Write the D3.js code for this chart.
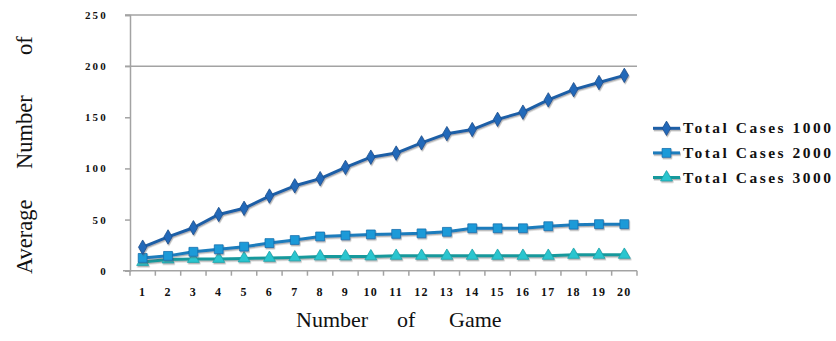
<!DOCTYPE html>
<html>
<head>
<meta charset="utf-8">
<script src="https://cdn.jsdelivr.net/npm/d3@7/dist/d3.min.js"></script>
<style>
  html, body { margin: 0; padding: 0; background: #fff; }
  svg { display: block; }
</style>
</head>
<body>
<svg id="chart" width="836" height="341"></svg>
<script>
// Average number of cases per game, for three total-case settings
const games = ["1","2","3","4","5","6","7","8","9","10","11","12","13","14","15","16","17","18","19","20"];
const cases1000 = [23, 33, 42, 55, 61, 73, 83, 90, 101, 111, 115, 125, 134, 138, 148, 155, 167, 177, 184, 191];
const cases2000 = [12.5, 14.5, 18.5, 21, 23.5, 27, 30, 33.5, 34.5, 35.5, 36, 36.5, 38, 41.5, 41.5, 41.5, 43.5, 45, 45.5, 45.5];
const cases3000 = [8.5, 11, 11.5, 11.5, 12, 12.5, 13, 14, 14, 14, 14.5, 14.5, 14.5, 14.5, 14.5, 14.5, 14.5, 15.5, 15.5, 15.5];
const seriesNames = ["Total Cases 1000", "Total Cases 2000", "Total Cases 3000"];
const yTicks = [0, 50, 100, 150, 200, 250];
const gridValues = [200, 250];

const svg = d3.select("#chart");
const plotLeft = 130, plotRight = 637, plotTop = 15, plotBottom = 270.7;

const x = d3.scaleBand().domain(games).range([plotLeft, plotRight]);
const y = d3.scaleLinear().domain([0, 250]).range([plotBottom, plotTop]);
const cx = g => x(g) + x.bandwidth() / 2;

const defs = svg.append("defs");
const shadow = defs.append("filter").attr("id", "shade")
  .attr("x", "-10%").attr("y", "-10%").attr("width", "120%").attr("height", "130%");
shadow.append("feDropShadow").attr("dx", 0.8).attr("dy", 1.4)
  .attr("stdDeviation", 0.7).attr("flood-color", "#555").attr("flood-opacity", 0.45);

const axisGrey = "#a3a3a3";
const tickFont = "'Liberation Serif', 'Times New Roman', serif";

// horizontal gridlines
svg.append("g").selectAll("line").data(gridValues).join("line")
  .attr("x1", plotLeft - 5).attr("x2", plotRight)
  .attr("y1", d => y(d)).attr("y2", d => y(d))
  .attr("stroke", axisGrey).attr("stroke-width", 1.5);

// y axis
const yAxis = svg.append("g").attr("transform", `translate(${plotLeft},0)`)
  .call(d3.axisLeft(y).tickValues(yTicks).tickSize(5).tickPadding(17));
yAxis.select(".domain").attr("stroke", axisGrey).attr("stroke-width", 1.5);
yAxis.selectAll(".tick line").attr("stroke", axisGrey).attr("stroke-width", 1.5);
yAxis.selectAll(".tick text")
  .attr("font-family", tickFont).attr("font-weight", "bold")
  .attr("font-size", 11).attr("letter-spacing", 2.2).attr("fill", "#111");

// x axis: ticks sit on the category boundaries
const boundaries = games.map(g => x(g)).concat([plotRight]);
const xAxisG = svg.append("g");
xAxisG.append("line").attr("x1", plotLeft - 7).attr("x2", plotRight)
  .attr("y1", plotBottom).attr("y2", plotBottom)
  .attr("stroke", axisGrey).attr("stroke-width", 1.5);
xAxisG.selectAll("line.tk").data(boundaries).join("line").attr("class", "tk")
  .attr("x1", d => d).attr("x2", d => d)
  .attr("y1", plotBottom).attr("y2", plotBottom + 5)
  .attr("stroke", axisGrey).attr("stroke-width", 1.5);
xAxisG.selectAll("text").data(games).join("text")
  .attr("x", d => cx(d)).attr("y", 296)
  .attr("text-anchor", "middle")
  .attr("font-family", tickFont).attr("font-weight", "bold")
  .attr("font-size", 12).attr("letter-spacing", 1.2).attr("fill", "#111")
  .text(d => d);

// axis titles, set word by word with wide gaps
const titleFont = "'Liberation Serif', 'Times New Roman', serif";
const xTitle = [["Number", 296], ["of", 397], ["Game", 449]];
svg.append("g").selectAll("text").data(xTitle).join("text")
  .attr("x", d => d[1]).attr("y", 327)
  .attr("font-family", titleFont).attr("font-size", 22).attr("fill", "#111")
  .text(d => d[0]);
const yTitle = [["Average", 274], ["Number", 169], ["of", 55]];
svg.append("g").selectAll("text").data(yTitle).join("text")
  .attr("transform", d => `translate(32,${d[1]}) rotate(-90)`)
  .attr("font-family", titleFont).attr("font-size", 22.5).attr("fill", "#111")
  .text(d => d[0]);

// series styling
const styles = [
  { line: "#1f5ea6", fill: "#2469b9", stroke: "#1b4f8d", shape: d3.symbolDiamond, size: 60 },
  { line: "#1b7cbc", fill: "#1d9ad8", stroke: "#1470ae", shape: d3.symbolSquare, size: 78 },
  { line: "#17999c", fill: "#2ac5cf", stroke: "#1aa2aa", shape: d3.symbolTriangle, size: 62 }
];
const allSeries = [cases1000, cases2000, cases3000];

const line = d3.line().x((d, i) => cx(games[i])).y(d => y(d));

// draw the lower series first so the top one sits above
[2, 1, 0].forEach(si => {
  const s = styles[si];
  const g = svg.append("g").attr("filter", "url(#shade)");
  g.append("path").datum(allSeries[si])
    .attr("fill", "none").attr("stroke", s.line)
    .attr("stroke-width", 3).attr("stroke-linejoin", "round")
    .attr("d", line);
  g.selectAll("path.mk").data(allSeries[si]).join("path").attr("class", "mk")
    .attr("transform", (d, i) => `translate(${cx(games[i])},${y(d)})`)
    .attr("d", d3.symbol().type(s.shape).size(s.size))
    .attr("fill", s.fill).attr("stroke", s.stroke).attr("stroke-width", 0.8);
});

// legend
const legend = svg.append("g");
seriesNames.forEach((name, i) => {
  const s = styles[i];
  const ly = 128.3 + i * 24.6;
  const item = legend.append("g").attr("filter", "url(#shade)");
  item.append("line").attr("x1", 653).attr("x2", 680).attr("y1", ly).attr("y2", ly)
    .attr("stroke", s.line).attr("stroke-width", 3);
  item.append("path").attr("transform", `translate(666.5,${ly})`)
    .attr("d", d3.symbol().type(s.shape).size(s.size))
    .attr("fill", s.fill).attr("stroke", s.stroke).attr("stroke-width", 0.8);
  legend.append("text").attr("x", 683).attr("y", ly + 5)
    .attr("font-family", tickFont).attr("font-weight", "bold")
    .attr("font-size", 15.5).attr("fill", "#111")
    .attr("textLength", 148).attr("lengthAdjust", "spacing")
    .text(name);
});
</script>
</body>
</html>
